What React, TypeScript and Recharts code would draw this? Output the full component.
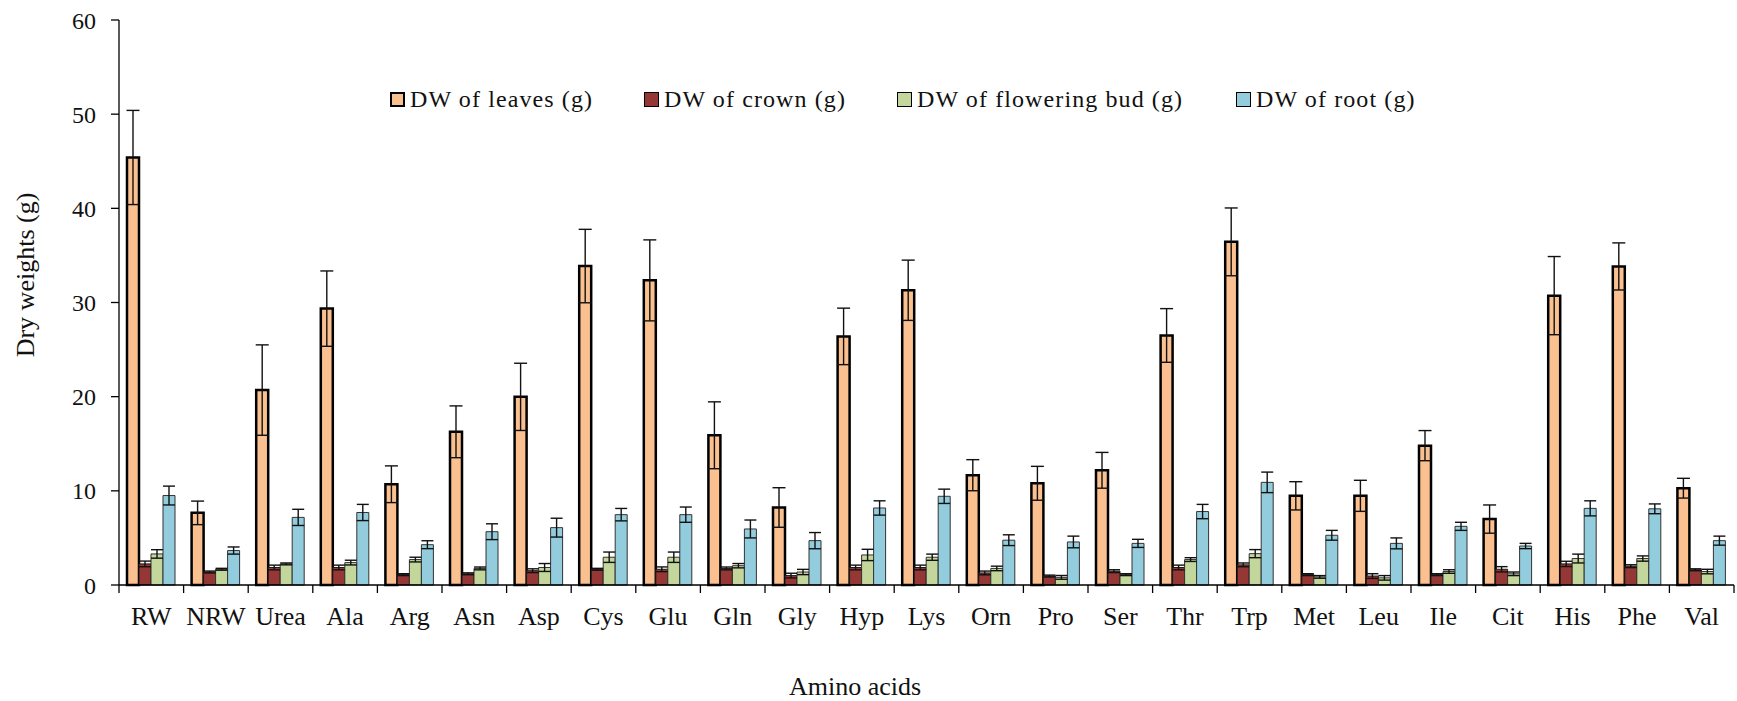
import React from 'react';
import { BarChart, Bar, XAxis, YAxis, ErrorBar, Legend } from 'recharts';

const CATEGORIES = ['RW', 'NRW', 'Urea', 'Ala', 'Arg', 'Asn', 'Asp', 'Cys', 'Glu', 'Gln', 'Gly', 'Hyp', 'Lys', 'Orn', 'Pro', 'Ser', 'Thr', 'Trp', 'Met', 'Leu', 'Ile', 'Cit', 'His', 'Phe', 'Val'];

const LEAVES = [45.4, 7.66, 20.7, 29.35, 10.7, 16.27, 19.98, 33.87, 32.35, 15.9, 8.23, 26.4, 31.3, 11.66, 10.8, 12.18, 26.5, 36.44, 9.47, 9.47, 14.8, 7.0, 30.73, 33.83, 10.28];
const LEAVES_ERR = [5.0, 1.25, 4.8, 4.0, 1.95, 2.75, 3.57, 3.9, 4.3, 3.55, 2.1, 3.0, 3.2, 1.65, 1.8, 1.9, 2.85, 3.6, 1.5, 1.65, 1.6, 1.5, 4.15, 2.5, 1.05];
const CROWN = [2.24, 1.38, 1.86, 1.86, 1.1, 1.19, 1.52, 1.67, 1.67, 1.76, 1.0, 1.86, 1.86, 1.28, 0.95, 1.47, 1.86, 2.14, 1.1, 0.95, 1.1, 1.67, 2.24, 2.0, 1.62];
const CROWN_ERR = [0.3, 0.1, 0.25, 0.25, 0.1, 0.1, 0.2, 0.1, 0.25, 0.15, 0.25, 0.25, 0.25, 0.2, 0.1, 0.15, 0.25, 0.2, 0.1, 0.25, 0.1, 0.28, 0.28, 0.15, 0.1];
const BUD = [3.3, 1.67, 2.24, 2.38, 2.7, 1.76, 1.86, 2.95, 2.95, 2.05, 1.38, 3.19, 2.95, 1.76, 0.81, 1.1, 2.7, 3.33, 0.86, 0.76, 1.43, 1.19, 2.81, 2.81, 1.43];
const BUD_ERR = [0.45, 0.1, 0.1, 0.25, 0.25, 0.15, 0.42, 0.55, 0.55, 0.23, 0.28, 0.6, 0.33, 0.24, 0.2, 0.1, 0.2, 0.43, 0.14, 0.24, 0.19, 0.19, 0.47, 0.28, 0.24];
const ROOT = [9.5, 3.66, 7.18, 7.7, 4.28, 5.66, 6.09, 7.47, 7.47, 5.95, 4.71, 8.18, 9.42, 4.76, 4.57, 4.42, 7.8, 10.9, 5.28, 4.42, 6.23, 4.14, 8.14, 8.09, 4.71];
const ROOT_ERR = [1.0, 0.38, 0.86, 0.86, 0.42, 0.84, 1.0, 0.66, 0.81, 0.95, 0.86, 0.76, 0.76, 0.57, 0.62, 0.43, 0.76, 1.09, 0.52, 0.58, 0.43, 0.28, 0.8, 0.52, 0.48];

const Y_TICKS = [0, 10, 20, 30, 40, 50, 60];

const SERIES = [
  { key: 'leaves', err: 'leavesErr', label: 'DW of leaves (g)', color: '#FAC090', stroke: '#000', sw: 2.5, legendBorder: 2, cap: 13 },
  { key: 'crown', err: 'crownErr', label: 'DW of crown (g)', color: '#953735', stroke: '#1a1a1a', sw: 1, legendBorder: 1, cap: 12 },
  { key: 'bud', err: 'budErr', label: 'DW of flowering bud (g)', color: '#C3D69B', stroke: '#333', sw: 1, legendBorder: 1, cap: 12 },
  { key: 'root', err: 'rootErr', label: 'DW of root (g)', color: '#93CDDD', stroke: '#333', sw: 1, legendBorder: 1, cap: 12 },
];

const data = CATEGORIES.map((name, i) => ({
  name,
  leaves: LEAVES[i], leavesErr: LEAVES_ERR[i],
  crown: CROWN[i], crownErr: CROWN_ERR[i],
  bud: BUD[i], budErr: BUD_ERR[i],
  root: ROOT[i], rootErr: ROOT_ERR[i],
}));

const FONT = '"Liberation Serif", "Times New Roman", serif';
const W = 1737;
const H = 701;
const MARGIN = { top: 20, right: 3, left: 0, bottom: 0 };
const Y_AXIS_W = 119;
const X_AXIS_H = 116;
const BAND = (W - MARGIN.left - MARGIN.right - Y_AXIS_W) / CATEGORIES.length;
const LEGEND_LEFT = [390, 644, 897, 1236];

const XTick = (props: any) => {
  const { x, y, payload, index } = props;
  const half = payload && typeof payload.offset === 'number' && payload.offset > 0 ? payload.offset : BAND / 2;
  const last = index === CATEGORIES.length - 1;
  return (
    <g>
      <line x1={x - half} x2={x - half} y1={y} y2={y + 8} stroke="#000" strokeWidth={1.3} />
      {last && <line x1={x + half} x2={x + half} y1={y} y2={y + 8} stroke="#000" strokeWidth={1.3} />}
      <text x={x} y={y + 40} textAnchor="middle" fontFamily={FONT} fontSize={26} fill="#111">
        {payload.value}
      </text>
    </g>
  );
};

const YTick = (props: any) => {
  const { x, y, payload } = props;
  return (
    <text x={x} y={y} dy={8.5} textAnchor="end" fontFamily={FONT} fontSize={24} fill="#111">
      {payload.value}
    </text>
  );
};

const renderLegend = () => (
  <div style={{ position: 'relative', width: W, height: 0 }}>
    {SERIES.map((s, i) => (
      <div
        key={s.key}
        style={{
          position: 'absolute', left: LEGEND_LEFT[i], top: 85, display: 'flex', alignItems: 'center',
          whiteSpace: 'nowrap', fontFamily: FONT, fontSize: 24, letterSpacing: 1.1, color: '#111', lineHeight: '28px',
        }}
      >
        <span style={{ display: 'inline-block', width: 15, height: 15, boxSizing: 'border-box', background: s.color, border: `${s.legendBorder}px solid #000`, marginRight: 5 }} />
        <span>{s.label}</span>
      </div>
    ))}
  </div>
);

export default function App() {
  return (
    <div style={{ position: 'absolute', left: 0, top: 0, width: W, height: H, background: '#fff' }}>
      <BarChart width={W} height={H} data={data} margin={MARGIN} barGap={0} barSize={12}>
        <Legend
          content={renderLegend}
          layout="horizontal"
          verticalAlign="middle"
          align="center"
          wrapperStyle={{ left: 0, top: 0, width: W, height: 0 }}
        />
        <XAxis
          dataKey="name"
          height={X_AXIS_H}
          interval={0}
          tickLine={false}
          tickSize={0}
          tickMargin={0}
          axisLine={{ stroke: '#000', strokeWidth: 1.3 }}
          tick={<XTick />}
          label={{
            content: () => (
              <text x={855} y={695} textAnchor="middle" fontFamily={FONT} fontSize={26} fill="#111">Amino acids</text>
            ),
          }}
        />
        <YAxis
          width={Y_AXIS_W}
          domain={[0, 60]}
          ticks={Y_TICKS}
          interval={0}
          tickSize={8}
          tickMargin={15}
          axisLine={{ stroke: '#000', strokeWidth: 1.3 }}
          tickLine={{ stroke: '#000', strokeWidth: 1.3 }}
          tick={<YTick />}
          label={{
            content: () => (
              <text x={34} y={275} transform="rotate(-90, 34, 275)" textAnchor="middle" fontFamily={FONT} fontSize={26} fill="#111">Dry weights (g)</text>
            ),
          }}
        />
        {SERIES.map((s) => (
          <Bar key={s.key} dataKey={s.key} fill={s.color} stroke={s.stroke} strokeWidth={s.sw} isAnimationActive={false} legendType="square">
            <ErrorBar dataKey={s.err} width={s.cap / 2} stroke="#111" strokeWidth={1.4} direction="y" />
          </Bar>
        ))}
      </BarChart>
    </div>
  );
}
